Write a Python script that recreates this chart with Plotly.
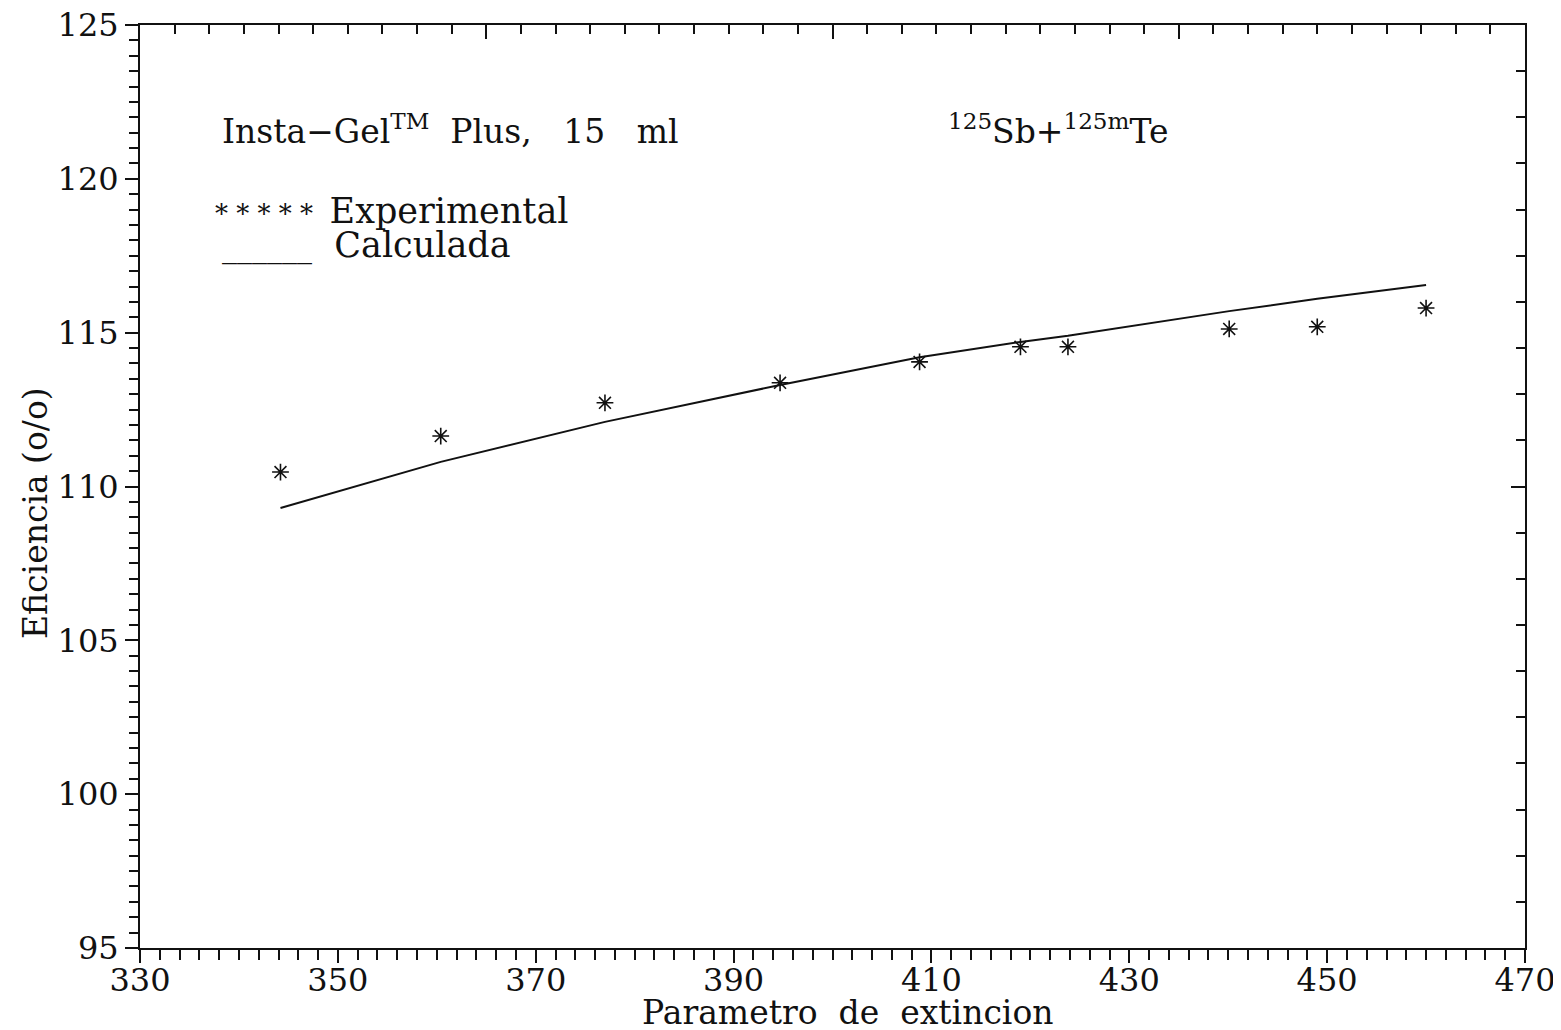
import plotly.graph_objects as go

# Data
param_exp = [344.2, 360.4, 377.0, 394.7, 408.8, 419.0, 423.8, 440.1, 449.0, 460.0]
eff_exp = [110.47, 111.64, 112.72, 113.37, 114.05, 114.54, 114.54, 115.12, 115.19, 115.80]

param_calc = [344.2, 360.4, 377.0, 394.7, 408.8, 419.0, 423.8, 440.1, 449.0, 460.0]
eff_calc = [109.30, 110.80, 112.10, 113.30, 114.20, 114.70, 114.90, 115.70, 116.10, 116.55]

x_range = [330, 470]
y_range = [95, 125]

FONT = "DejaVu Serif"
BLACK = "#111111"

# page body has an 8px margin: size the figure so it fits the window
OFF = 8
W, H = 1561 - OFF, 1030 - OFF
L, R, T, B = 132, 36, 17, 82
PW, PH = W - L - R, H - T - B


def px(x):  # page pixel -> paper fraction
    return (x - OFF - L) / PW


def py(y):
    return (OFF + H - B - y) / PH


fig = go.Figure()

fig.add_trace(go.Scatter(
    x=param_calc, y=eff_calc, mode="lines",
    line=dict(color=BLACK, width=2), name="Calculada", showlegend=False,
))
fig.add_trace(go.Scatter(
    x=param_exp, y=eff_exp, mode="markers",
    marker=dict(symbol="asterisk-open", size=14, line=dict(color=BLACK, width=1.6), color=BLACK),
    name="Experimental", showlegend=False,
))
# empty trace so that the secondary (top/right) tick axes are drawn
fig.add_trace(go.Scatter(x=[None], y=[None], xaxis="x2", yaxis="y2",
                         showlegend=False, hoverinfo="skip"))

tick_font = dict(family=FONT, size=32, color=BLACK)

fig.update_layout(
    width=W, height=H,
    margin=dict(l=L, r=R, t=T, b=B),
    paper_bgcolor="white", plot_bgcolor="white",
    font=dict(family=FONT, color=BLACK),
    xaxis=dict(
        range=x_range, tick0=330, dtick=20, showgrid=False, zeroline=False,
        showline=True, linecolor=BLACK, linewidth=2, mirror=True, automargin=False,
        ticks="outside", ticklen=13, tickwidth=2, tickcolor=BLACK,
        minor=dict(dtick=2, tick0=330, ticks="outside", ticklen=10, tickwidth=1.5, tickcolor=BLACK),
        tickfont=tick_font, ticklabeloverflow="allow", ticklabelstandoff=-10,
    ),
    yaxis=dict(
        range=y_range, tick0=95, dtick=5, showgrid=False, zeroline=False,
        showline=True, linecolor=BLACK, linewidth=2, mirror=True, automargin=False,
        ticks="outside", ticklen=13, tickwidth=2, tickcolor=BLACK,
        minor=dict(dtick=0.5, tick0=95, ticks="outside", ticklen=9, tickwidth=1.5, tickcolor=BLACK),
        tickfont=tick_font, ticklabeloverflow="allow",
    ),
    xaxis2=dict(
        range=x_range, overlaying="x", side="top", anchor="y", automargin=False,
        showticklabels=False, showgrid=False, zeroline=False, showline=False,
        tick0=330, dtick=35, ticks="inside", ticklen=14, tickwidth=2, tickcolor=BLACK,
        minor=dict(dtick=3.5, tick0=330, ticks="inside", ticklen=9, tickwidth=1.5, tickcolor=BLACK),
    ),
    yaxis2=dict(
        range=y_range, overlaying="y", side="right", anchor="x", automargin=False,
        showticklabels=False, showgrid=False, zeroline=False, showline=False,
        tick0=95, dtick=15, ticks="inside", ticklen=14, tickwidth=2, tickcolor=BLACK,
        minor=dict(dtick=1.5, tick0=95, ticks="inside", ticklen=9, tickwidth=1.5, tickcolor=BLACK),
    ),
)

ann_font = dict(family=FONT, size=33, color=BLACK)
leg_font = dict(family=FONT, size=35, color=BLACK)

# axis titles
fig.add_annotation(
    xref="paper", yref="paper", x=px(848), y=py(1013),
    xanchor="center", yanchor="middle", showarrow=False, font=ann_font,
    text="Parametro\u00a0 de\u00a0 extincion",
)
fig.add_annotation(
    xref="paper", yref="paper", x=px(35), y=py(513), textangle=-90,
    xanchor="center", yanchor="middle", showarrow=False, font=ann_font,
    text="Eficiencia (o/o)",
)

# labels inside the plot
fig.add_annotation(
    xref="paper", yref="paper", x=px(220), y=py(130),
    xanchor="left", yanchor="middle", showarrow=False, font=ann_font,
    text="Insta\u2212Gel<sup>TM</sup>\u00a0 Plus,\u00a0\u00a0 15\u00a0\u00a0 ml",
)
fig.add_annotation(
    xref="paper", yref="paper", x=px(946), y=py(130),
    xanchor="left", yanchor="middle", showarrow=False, font=ann_font,
    text="<sup>125</sup>Sb+<sup>125m</sup>Te",
)
fig.add_annotation(
    xref="paper", yref="paper", x=px(213), y=py(211),
    xanchor="left", yanchor="middle", showarrow=False, font=leg_font,
    text="<span style='font-size:26px'>*\u00a0*\u00a0*\u00a0*\u00a0*\u00a0\u00a0</span>Experimental",
)
fig.add_annotation(
    xref="paper", yref="paper", x=px(220), y=py(245),
    xanchor="left", yanchor="middle", showarrow=False, font=leg_font,
    text="<span style='font-size:30px'>______</span>\u00a0\u00a0Calculada",
)

fig.write_html("out.html")
